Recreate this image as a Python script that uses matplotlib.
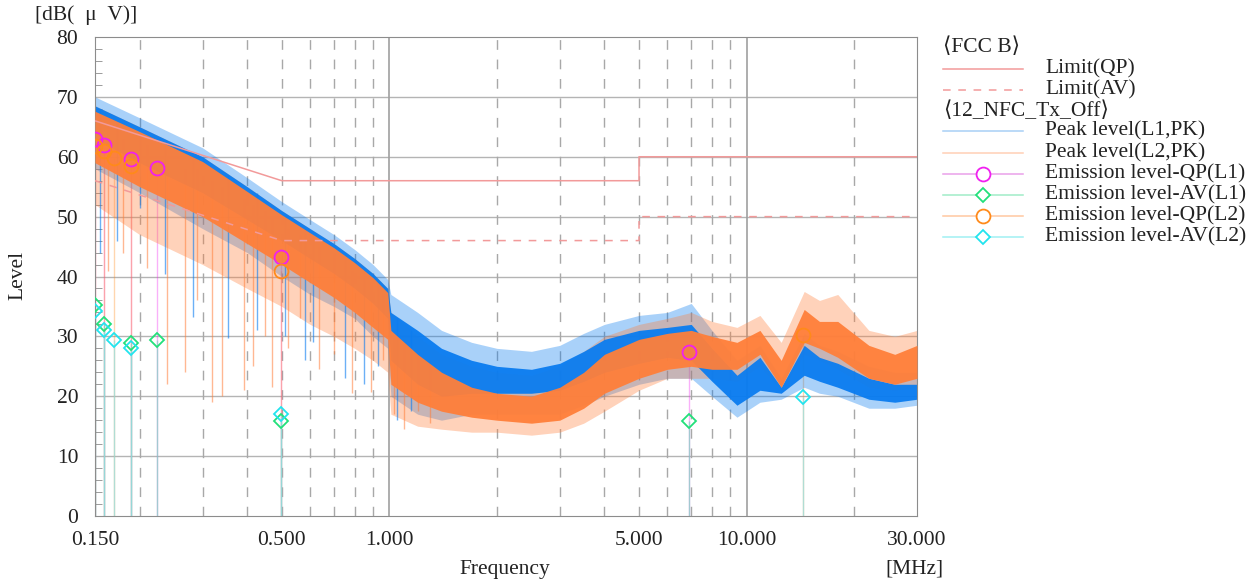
import matplotlib
matplotlib.use("Agg")
import matplotlib.pyplot as plt
from matplotlib.lines import Line2D

plt.rcParams['font.family'] = ['Liberation Serif', 'DejaVu Serif']

# limit lines (FCC B)
lim_f = [0.15, 0.5, 5.0, 5.0, 30.0]
lim_qp = [66, 56, 56, 60, 60]
lim_av = [56, 46, 46, 50, 50]

# peak level envelopes
freq = [0.15, 0.2, 0.3, 0.4, 0.5, 0.6, 0.7, 0.8, 0.9, 0.99, 1.01, 1.2, 1.4, 1.7, 2.0, 2.5,
        3.0, 3.5, 4.0, 5.0, 6.0, 7.0, 8.0, 9.4, 10.9, 12.5, 14.5, 16.0, 18.0, 22.0, 26.0, 30.0]

l1_outer_hi = [70, 66.5, 61.5, 56.5, 52.5, 49.5, 47, 44.5, 42, 39.5, 37, 34, 31, 29, 28, 27.5,
               28.5, 30.5, 32, 33.5, 34, 35.5, 31, 26, 28.5, 23, 30.5, 28.5, 27.5, 25, 24, 24]
l1_inner_hi = [68.5, 65, 60, 55, 51, 48, 45.5, 43, 40.5, 38, 34, 31, 28, 26, 25, 24.5,
               25.5, 27.5, 29.5, 31, 31.5, 32, 28, 23.5, 26.5, 21.5, 28.5, 26.5, 25.5, 23, 22, 22]
l1_inner_lo = [63, 59, 54, 49.5, 46, 43, 40.5, 38, 35.5, 33, 26, 22, 20, 20.5, 20.5, 20.5,
               21, 22.5, 24, 25.5, 26.5, 26, 22.5, 18.5, 21, 20.5, 23.5, 22.5, 21.5, 19.5, 19, 19.5]
l1_outer_lo = [58, 54, 48, 44, 40, 37, 35, 33, 30, 28, 20, 17, 16, 17, 17, 17,
               17, 18.5, 20, 22, 23, 23, 20, 16.5, 19, 19.5, 21.5, 20.5, 20, 18, 18, 18.5]

l2_outer_hi = [68.5, 65, 60, 55, 51, 48, 45.5, 43, 40.5, 38, 34, 30, 27, 25, 24, 23.5,
               25, 27.5, 30, 32, 33, 34, 32.5, 31.5, 33.5, 29, 37.5, 36, 37, 31, 30, 31]
l2_inner_hi = [67.6, 64.2, 59.2, 54.2, 50.3, 47.3, 44.8, 42.3, 39.8, 37.3, 31, 27, 24, 21.5, 20.5, 20,
               21.5, 24, 27, 29.5, 30.5, 31, 30, 29, 31, 26, 34.5, 32.5, 32.5, 28.5, 27, 28.5]
l2_inner_lo = [59, 55, 50, 45.5, 42, 39, 36.5, 34, 31.5, 29.5, 22, 19, 17.5, 16.5, 16, 15.5,
               16, 18, 20.5, 23, 24.5, 25, 24.5, 24.5, 27, 21.5, 29, 28, 26.5, 23, 22, 23]
l2_outer_lo = [52, 47, 42, 38, 35, 32, 30, 28, 26, 24, 17, 15, 14.5, 14, 14, 13.5,
               14, 15.5, 17.5, 21, 23, 23, 23, 22.5, 25, 21, 27, 26, 24.5, 21.5, 21, 21.5]

# deep downward spikes of the peak traces
l1_dip_f = [0.155, 0.173, 0.2, 0.235, 0.283, 0.354, 0.425, 0.51, 0.58, 0.61, 0.75, 0.85, 0.93, 1.05, 1.15]
l1_dip_top = [68, 66, 64, 62, 60, 57, 54, 50, 48, 47, 43, 41, 39, 33, 31]
l1_dip_bot = [44, 46, 51.5, 40.5, 33.3, 29.7, 31, 30, 26, 29, 23, 22, 25, 16, 17.5]

l2_dip_f = [0.163, 0.18, 0.21, 0.238, 0.268, 0.29, 0.319, 0.341, 0.392, 0.414, 0.45, 0.468,
            0.52, 0.563, 0.636, 0.70, 0.787, 0.889, 0.96, 1.03, 1.1, 1.2, 1.3]
l2_dip_top = [65, 63, 62, 60, 58, 58, 56, 55, 53, 52, 51, 50, 48, 47, 45, 44, 41, 39, 37, 30, 29, 27, 26]
l2_dip_bot = [41, 44, 41.5, 22, 24, 36, 19, 20, 21, 25, 30, 21.5, 28, 33, 24.5, 27, 20.5, 20.7, 26,
              17, 14.5, 17.5, 15.5]

# emission levels
qp1_f = [0.150, 0.159, 0.189, 0.223, 0.498, 6.89]
qp1_v = [62.9, 61.9, 59.6, 58.2, 43.3, 27.4]
av1_f = [0.150, 0.159, 0.189, 0.224, 0.498, 6.89]
av1_v = [35.2, 32.1, 28.9, 29.4, 15.9, 15.9]
qp2_f = [0.150, 0.159, 0.170, 0.189, 0.498, 14.4]
qp2_v = [61.8, 60.9, 59.8, 58.5, 40.9, 30.3]
av2_f = [0.150, 0.159, 0.170, 0.189, 0.498, 14.4]
av2_v = [34.2, 31.0, 29.4, 28.0, 17.1, 19.8]

BLUE = '#0a7cf0'
ORANGE = '#ff7f3a'
LIMIT = '#f29a9a'
C_QP1 = '#f020f0'
C_AV1 = '#22e07a'
C_QP2 = '#ff8a1a'
C_AV2 = '#22e4ee'
TXT = '#222222'
FS = 15.5

fig = plt.figure(figsize=(12.5, 5.82), dpi=100)
ax = fig.add_axes([0.076, 0.1134, 0.6576, 0.823])
ax.set_xscale('log')
ax.set_xlim(0.15, 30)
ax.set_ylim(0, 80)

# grid
for y in range(10, 80, 10):
    ax.axhline(y, color='#b4b4b4', lw=1.0, zorder=0)
for x in [1, 10]:
    ax.axvline(x, color='#a0a0a0', lw=1.2, zorder=0)
for x in [0.2, 0.3, 0.4, 0.5, 0.6, 0.7, 0.8, 0.9, 2, 3, 4, 5, 6, 7, 8, 9, 20]:
    ax.axvline(x, color='#a8a8a8', lw=1.0, ls=(0, (7, 7)), zorder=0)

# stems of emission levels
ax.vlines(qp1_f, 0, qp1_v, color=C_QP1, alpha=0.35, lw=1, zorder=1)
ax.vlines(qp2_f, 0, qp2_v, color=C_QP2, alpha=0.35, lw=1, zorder=1)
ax.vlines(av1_f, 0, av1_v, color='#7fd4c0', alpha=0.7, lw=1, zorder=1)
ax.vlines(av2_f, 0, av2_v, color='#8fe0e4', alpha=0.7, lw=1, zorder=1)

# peak levels: light spike zone first, dense band on top
ax.fill_between(freq, l1_outer_lo, l1_outer_hi, color=BLUE, alpha=0.35, lw=0, zorder=2)
ax.fill_between(freq, l2_outer_lo, l2_outer_hi, color=ORANGE, alpha=0.35, lw=0, zorder=2.1)
ax.vlines(l1_dip_f, l1_dip_bot, l1_dip_top, color=BLUE, alpha=0.6, lw=1, zorder=2.2)
ax.vlines(l2_dip_f, l2_dip_bot, l2_dip_top, color=ORANGE, alpha=0.55, lw=1, zorder=2.3)
ax.fill_between(freq, l1_inner_lo, l1_inner_hi, color=BLUE, alpha=0.95, lw=0, zorder=2.5)
ax.fill_between(freq, l2_inner_lo, l2_inner_hi, color=ORANGE, alpha=0.95, lw=0, zorder=2.6)

# limits
ax.plot(lim_f, lim_qp, color=LIMIT, lw=1.1, zorder=4)
ax.plot(lim_f, lim_av, color=LIMIT, lw=1.1, ls=(0, (5, 5)), zorder=4)

# emission markers
ax.plot(qp1_f, qp1_v, 'o', ms=10, mfc='none', mec=C_QP1, mew=1.3, zorder=6)
ax.plot(qp2_f, qp2_v, 'o', ms=10, mfc='none', mec=C_QP2, mew=1.3, zorder=6)
ax.plot(av1_f, av1_v, 'D', ms=7.5, mfc='none', mec=C_AV1, mew=1.3, zorder=6)
ax.plot(av2_f, av2_v, 'D', ms=7.5, mfc='none', mec=C_AV2, mew=1.3, zorder=6)

# axes styling
for s in ax.spines.values():
    s.set_color('#8c8c8c')
ax.set_xticks([0.15, 0.5, 1, 5, 10, 30])
ax.set_xticklabels(['0.150', '0.500', '1.000', '5.000', '10.000', '30.000'])
ax.set_xticks([], minor=True)
ax.set_yticks(range(0, 81, 10))
ax.set_yticks(range(2, 80, 2), minor=True)
ax.tick_params(axis='both', which='major', length=0, labelsize=FS, colors=TXT)
ax.tick_params(axis='x', which='major', pad=11)
ax.tick_params(axis='y', which='major', pad=12)
ax.tick_params(axis='y', which='minor', length=5, direction='in', color='#8c8c8c')
ax.tick_params(axis='x', which='minor', length=0)

fig.text(0.028, 0.974, '[dB(\u2002μ\u2002V)]', fontsize=FS, ha='left', va='center', color=TXT)
fig.text(0.014, 0.526, 'Level', fontsize=FS, rotation=90, ha='center', va='center', color=TXT)
fig.text(0.404, 0.022, 'Frequency', fontsize=FS, ha='center', va='center', color=TXT)
fig.text(0.755, 0.022, '[MHz]', fontsize=FS, ha='right', va='center', color=TXT)

# legend
W, H = 1250.0, 582.0
x0, x1, xm, xt = 943 / W, 1023 / W, 983 / W, 1045 / W


def ly(p):
    return 1 - p / H


fig.text(x0, ly(47), '⟨FCC B⟩', fontsize=FS, va='center', color=TXT)
fig.text(x0, ly(111), '⟨12_NFC_Tx_Off⟩', fontsize=FS, va='center', color=TXT)
rows = [
    (69, 'Limit(QP)', LIMIT, '-', None, None),
    (90, 'Limit(AV)', LIMIT, (0, (5, 5)), None, None),
    (131, 'Peak level(L1,PK)', '#a8cff5', '-', None, None),
    (153, 'Peak level(L2,PK)', '#ffcfb5', '-', None, None),
    (174, 'Emission level-QP(L1)', '#eaa0ea', '-', 'o', C_QP1),
    (195, 'Emission level-AV(L1)', '#a0ecc8', '-', 'D', C_AV1),
    (216, 'Emission level-QP(L2)', '#ffc8a0', '-', 'o', C_QP2),
    (237, 'Emission level-AV(L2)', '#a0f0f2', '-', 'D', C_AV2),
]
for p, label, lc, ls, mk, mc in rows:
    fig.add_artist(Line2D([x0, x1], [ly(p), ly(p)], color=lc, lw=1.1, ls=ls,
                          transform=fig.transFigure))
    if mk:
        fig.add_artist(Line2D([xm], [ly(p)], marker=mk, ms=10 if mk == 'o' else 7.5,
                              mfc='white', mec=mc, mew=1.3, transform=fig.transFigure))
    fig.text(xt, ly(p), label, fontsize=FS, va='center', color=TXT)

fig.savefig('out.png', dpi=100)
